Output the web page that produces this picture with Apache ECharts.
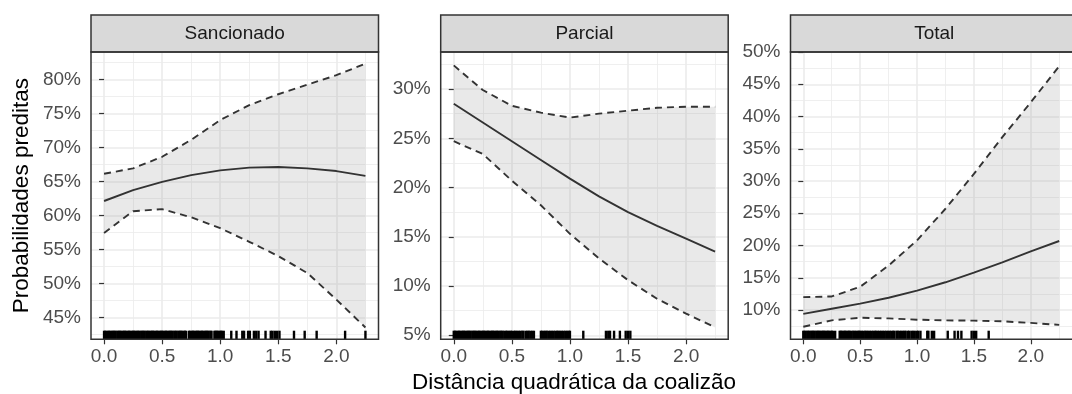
<!DOCTYPE html>
<html><head><meta charset="utf-8">
<script src="https://cdn.jsdelivr.net/npm/echarts@6/dist/echarts.min.js"></script>
<style>html,body{margin:0;padding:0;background:#fff}#c{width:1072px;height:394px}</style>
</head><body><div id="c"></div>
<script>
// ---------- data ----------
const xValues = [0, 0.25, 0.5, 0.75, 1.0, 1.25, 1.5, 1.75, 2.0, 2.25];
const panelTitles = ['Sancionado', 'Parcial', 'Total'];

const sancFit   = [62.1, 63.7, 64.9, 65.9, 66.6, 67.0, 67.1, 66.9, 66.5, 65.8];
const sancLower = [57.4, 60.6, 60.9, 59.7, 58.1, 56.1, 54.0, 51.5, 47.6, 43.5];
const sancUpper = [66.1, 66.9, 68.6, 71.1, 74.0, 76.2, 77.8, 79.2, 80.6, 82.3];

const parcFit   = [28.5, 26.6, 24.7, 22.8, 20.9, 19.1, 17.5, 16.1, 14.8, 13.5];
const parcLower = [24.7, 23.4, 20.7, 18.2, 15.3, 12.8, 10.6, 8.7, 7.2, 5.8];
const parcUpper = [32.4, 29.9, 28.3, 27.6, 27.1, 27.5, 27.8, 28.1, 28.2, 28.2];

const totFit    = [9.4, 10.2, 11.0, 11.9, 13.0, 14.3, 15.8, 17.4, 19.1, 20.7];
const totLower  = [7.4, 8.4, 8.8, 8.7, 8.5, 8.4, 8.35, 8.25, 8.0, 7.7];
const totUpper  = [12.0, 12.1, 13.6, 16.9, 20.8, 25.7, 31.1, 36.8, 42.2, 47.8];

// observed values of the predictor (rug marks)
const sancRug = [0,0.01,0.02,0.035,0.045,0.055,0.07,0.08,0.09,0.1,0.115,0.125,0.135,0.145,0.16,0.17,0.18,0.19,0.205,0.215,0.225,0.24,0.25,0.26,0.27,0.285,0.295,0.305,0.32,0.33,0.34,0.35,0.365,0.375,0.385,0.4,0.41,0.42,0.43,0.445,0.455,0.465,0.48,0.49,0.5,0.51,0.525,0.535,0.545,0.56,0.57,0.58,0.59,0.605,0.615,0.625,0.64,0.65,0.66,0.67,0.685,0.695,0.705,
  0.73,0.74,0.755,0.765,0.775,0.79,0.8,0.81,0.82,0.835,0.845,0.855,0.87,0.88,0.89,0.9,0.915,0.925,0.95,0.96,0.97,0.98,0.995,1.005,1.015,1.03,
  1.095,1.14,1.19,1.205,1.24,1.255,1.29,1.31,1.33,1.39,1.435,1.45,1.47,1.49,1.51,1.635,1.727,1.83,2.075,2.25];
const parcRug = [0,0.01,0.02,0.035,0.045,0.055,0.07,0.08,0.09,0.1,0.115,0.125,0.135,0.145,0.16,0.17,0.18,0.19,0.205,0.215,0.225,0.24,0.25,0.26,0.27,0.285,0.295,0.305,0.32,0.33,0.34,0.35,0.365,0.375,0.385,0.4,0.41,0.42,
  0.435,0.45,0.46,0.475,0.49,0.5,0.52,0.53,0.545,0.56,0.575,0.59,0.6,0.62,0.635,0.645,0.66,0.675,0.69,
  0.75,0.76,0.775,0.79,0.8,0.815,0.83,0.845,0.86,0.875,0.89,0.9,0.915,0.93,0.945,0.96,0.975,0.99,1.0,
  1.115,1.31,1.33,1.345,1.38,1.43,1.48,1.5,1.52];
const totRug = [0,0.01,0.02,0.035,0.045,0.055,0.07,0.08,0.09,0.1,0.115,0.125,0.135,0.145,0.16,0.17,0.18,0.19,0.205,0.215,0.225,0.24,0.25,0.26,0.28,
  0.32,0.33,0.34,0.355,0.365,0.375,0.39,0.4,0.41,0.425,0.44,0.45,0.465,0.48,0.49,0.5,0.515,0.53,0.545,0.555,0.57,0.585,0.6,0.615,0.63,0.64,0.655,0.67,0.685,0.7,0.715,0.73,0.745,0.76,0.775,0.79,0.8,0.82,0.83,0.845,0.86,0.875,0.89,0.9,0.92,0.93,0.95,0.965,0.98,1.0,1.01,1.03,
  1.09,1.1,1.13,1.15,1.27,1.33,1.36,1.39,1.48,1.5,1.52,1.63];

const xTicks = [0, 0.5, 1.0, 1.5, 2.0];
const yTicksSanc = [45, 50, 55, 60, 65, 70, 75, 80];
const yTicksParc = [5, 10, 15, 20, 25, 30];
const yTicksTot  = [10, 15, 20, 25, 30, 35, 40, 45, 50];

const xTitle = 'Distância quadrática da coalizão';
const yTitle = 'Probabilidades preditas';

// ---------- layout / style ----------
const FONT = '"Liberation Sans", Arial, Helvetica, sans-serif';
const gridLefts = [91, 440.7, 790.5];
const gridW = 287.5, gridTop = 52, gridH = 287.3;
const stripTop = 15;
const xRange = [-0.1125, 2.3625];
const yRanges = [[41.76, 84.01], [4.59, 33.76], [5.46, 50.0]];

const panels = [
  {fit: sancFit, lo: sancLower, up: sancUpper, rug: sancRug, yTicks: yTicksSanc},
  {fit: parcFit, lo: parcLower, up: parcUpper, rug: parcRug, yTicks: yTicksParc},
  {fit: totFit,  lo: totLower,  up: totUpper,  rug: totRug,  yTicks: yTicksTot}
];

const isMult = (v, step) => Math.abs(v / step - Math.round(v / step)) < 1e-6;

const grids = [], xAxes = [], yAxes = [], series = [], graphics = [];
panels.forEach((p, i) => {
  grids.push({left: gridLefts[i], top: gridTop, width: gridW, height: gridH, containLabel: false});
  xAxes.push({
    type: 'value', gridIndex: i, min: xRange[0], max: xRange[1],
    minInterval: 0.5, maxInterval: 0.5,
    axisLine: {show: false},
    axisTick: {show: true, length: 5, customValues: xTicks, lineStyle: {color: '#333333', width: 1.2}},
    axisLabel: {customValues: xTicks, margin: 8, fontSize: 19, color: '#4d4d4d', fontFamily: FONT,
      formatter: v => isMult(v, 0.5) ? v.toFixed(1) : ''},
    splitLine: {show: true, lineStyle: {color: '#ebebeb', width: 1.6}},
    minorTick: {show: false, splitNumber: 2},
    minorSplitLine: {show: true, lineStyle: {color: '#ebebeb', width: 0.8}}
  });
  yAxes.push({
    type: 'value', gridIndex: i, min: yRanges[i][0], max: yRanges[i][1],
    minInterval: 5, maxInterval: 5,
    axisLine: {show: false},
    axisTick: {show: true, length: 5, customValues: p.yTicks, lineStyle: {color: '#333333', width: 1.2}},
    axisLabel: {customValues: p.yTicks, margin: 10, fontSize: 19, color: '#4d4d4d', fontFamily: FONT,
      formatter: v => isMult(v, 5) ? Math.round(v) + '%' : ''},
    splitLine: {show: true, lineStyle: {color: '#ebebeb', width: 1.6}},
    minorTick: {show: false, splitNumber: 2},
    minorSplitLine: {show: true, lineStyle: {color: '#ebebeb', width: 0.8}}
  });
  // ribbon
  series.push({
    type: 'custom', xAxisIndex: i, yAxisIndex: i, silent: true, z: 1,
    data: [[xValues[0], p.lo[0]]],
    renderItem: (params, api) => {
      const pts = [];
      xValues.forEach((x, k) => pts.push(api.coord([x, p.up[k]])));
      for (let k = xValues.length - 1; k >= 0; k--) pts.push(api.coord([xValues[k], p.lo[k]]));
      return {type: 'polygon', shape: {points: pts}, style: {fill: 'rgba(153,153,153,0.21)'}};
    }
  });
  const mk = (arr, dashed) => ({
    type: 'line', xAxisIndex: i, yAxisIndex: i, silent: true, z: 3,
    data: xValues.map((x, k) => [x, arr[k]]),
    showSymbol: false, symbol: 'none', smooth: false,
    lineStyle: {color: '#333333', width: 1.9, type: dashed ? [7, 5] : 'solid'}
  });
  series.push(mk(p.lo, true), mk(p.up, true), mk(p.fit, false));
  // rug
  series.push({
    type: 'custom', xAxisIndex: i, yAxisIndex: i, silent: true, z: 4,
    data: p.rug.map(v => [v, yRanges[i][0]]),
    encode: {x: 0, y: 1},
    renderItem: (params, api) => {
      const c = api.coord([api.value(0), api.value(1)]);
      return {type: 'line', shape: {x1: c[0], y1: c[1], x2: c[0], y2: c[1] - 8.6},
        style: {stroke: '#000000', lineWidth: 2.4}};
    }
  });
  // strip + borders
  graphics.push({type: 'rect', z: 100, shape: {x: gridLefts[i], y: stripTop, width: gridW, height: gridTop - stripTop},
    style: {fill: '#d9d9d9', stroke: '#333333', lineWidth: 1.5}});
  graphics.push({type: 'text', z: 101, x: gridLefts[i] + gridW / 2, y: (stripTop + gridTop) / 2,
    style: {text: panelTitles[i], fill: '#1a1a1a', font: '19px ' + FONT, align: 'center', verticalAlign: 'middle'}});
  graphics.push({type: 'rect', z: 100, shape: {x: gridLefts[i], y: gridTop, width: gridW, height: gridH},
    style: {fill: 'none', stroke: '#333333', lineWidth: 1.5}});
});

graphics.push({type: 'text', z: 101, x: 22, y: gridTop + gridH / 2, rotation: Math.PI / 2,
  style: {text: yTitle, fill: '#000000', font: '22.5px ' + FONT, align: 'center', verticalAlign: 'middle'}});
graphics.push({type: 'text', z: 101, x: 574, y: 383,
  style: {text: xTitle, fill: '#000000', font: '22.5px ' + FONT, align: 'center', verticalAlign: 'middle'}});

const chart = echarts.init(document.getElementById('c'), null, {renderer: 'canvas'});
chart.setOption({
  animation: false,
  backgroundColor: '#ffffff',
  grid: grids, xAxis: xAxes, yAxis: yAxes, series: series,
  graphic: {elements: graphics}
});
</script></body></html>
